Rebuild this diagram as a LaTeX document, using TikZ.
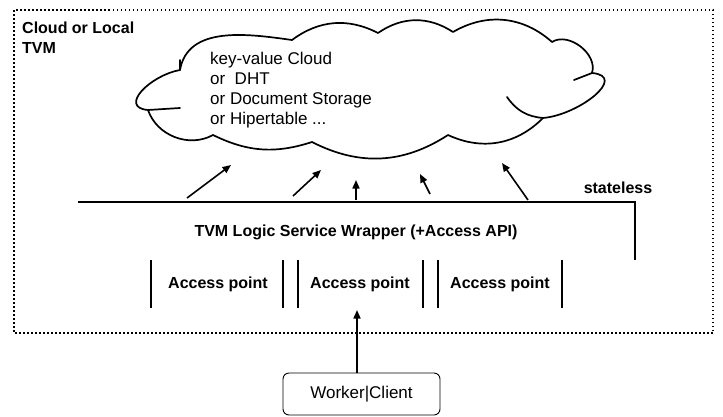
\documentclass[tikz,border=0pt]{standalone}
\usepackage{fontspec}
\setmainfont{Liberation Sans}
\usetikzlibrary{arrows.meta}
\begin{document}
\begin{tikzpicture}[x=1pt,y=1pt,
  lbl/.style={font=\fontsize{16}{18}\selectfont\bfseries, inner sep=0pt},
  ctext/.style={font=\fontsize{17}{20}\selectfont, align=left, inner sep=0pt},
  arr/.style={line width=1.6pt, -{Triangle[length=8.5pt,width=7pt]}},
  apbar/.style={line width=2.6pt},
  frame/.style={line width=1.5pt, dash pattern=on 1.5pt off 2.5pt},
  cloudline/.style={line width=1.7pt, line join=round, line cap=round},
  wrapline/.style={line width=1.8pt},
  workerbox/.style={draw, line width=0.9pt, rounded corners=6pt, minimum width=157pt, minimum height=42pt, inner sep=0pt, font=\fontsize{17}{20}\selectfont}]
\useasboundingbox (0,0) rectangle (723,-416);
% frame
\draw[frame] (14,-10) rectangle (713,-333);
\node[lbl, anchor=north west, align=left, font=\fontsize{16}{20}\selectfont\bfseries] (title) at (22,-22) {Cloud or Local\\TVM};
% cloud
\coordinate (P1) at (180,-70);
\coordinate (P2) at (292,-40);
\coordinate (P3) at (378,-33);
\coordinate (P4) at (453,-32);
\coordinate (P5) at (552,-42);
\coordinate (P6) at (592,-73);
\coordinate (P7) at (543,-118);
\coordinate (P8) at (448,-135);
\coordinate (P9) at (312,-142);
\coordinate (P10) at (213,-135);
\coordinate (P11) at (148,-110);
\draw[cloudline] (P1) to[out=80,in=172] (P2) to[bend left=32] (P3) to[bend left=34] (P4)
  to[bend left=36] (P5) to[bend left=70] (P6) to[out=-5,in=5,looseness=1.4] (P7)
  to[bend left=35] (P8) to[bend left=30] (P9) to[bend left=22] (P10)
  to[bend left=50] (P11) to[out=175,in=190,looseness=1.5] (P1);
\draw[cloudline] (P7) to[bend left=25] (507,-97);
\draw[cloudline] (P6) -- (574,-80);
\draw[cloudline] (P11) -- (180,-108);
\draw[cloudline] (P1) -- (180,-60);
\node[ctext, anchor=west] (ctxt) at (210,-90) {key-value Cloud\\or\ \ DHT\\or Document Storage\\or Hipertable ...};
% wrapper line
\coordinate (wl) at (78,-202);
\coordinate (wc) at (635,-202);
\coordinate (wr) at (635,-260);
\draw[wrapline] (wl) -- (wc) -- (wr);
\node[lbl] (stateless) at (618,-188) {stateless};
\node[lbl] (wrapper) at (356,-232) {TVM Logic Service Wrapper (+Access API)};
% arrows to cloud
\coordinate (s1) at (187,-198); \coordinate (e1) at (231,-165);
\coordinate (s2) at (293,-196); \coordinate (e2) at (321,-170);
\coordinate (s3) at (356,-200); \coordinate (e3) at (356,-180);
\coordinate (s4) at (430,-194); \coordinate (e4) at (420,-174);
\coordinate (s5) at (528,-200); \coordinate (e5) at (502,-163);
\foreach \i in {1,...,5} {\draw[arr] (s\i) -- (e\i);}
% access points
\foreach \x in {151,283,298,423,438,562} {\draw[apbar] (\x,-260) -- (\x,-308);}
\node[lbl] (ap1) at (218,-284) {Access point};
\node[lbl] (ap2) at (360,-284) {Access point};
\node[lbl] (ap3) at (500,-284) {Access point};
\coordinate (ap2s) at (357,-310);
% worker
\node[workerbox] (worker) at (361.5,-394) {Worker|Client};
\draw[arr] (worker.north -| ap2s) -- (ap2s);
\end{tikzpicture}
\end{document}
